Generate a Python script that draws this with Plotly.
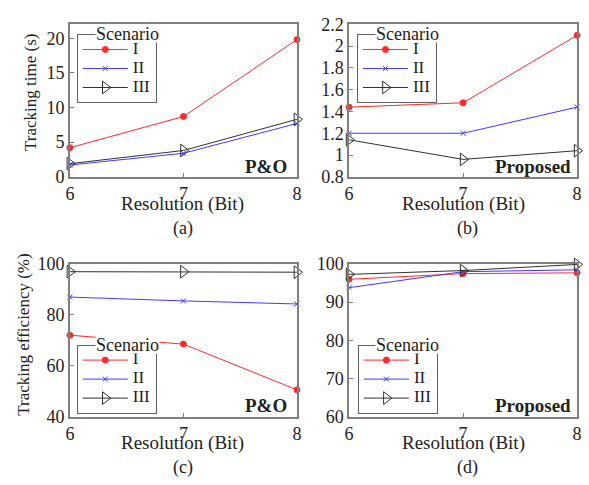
import plotly.graph_objects as go

res = [6, 7, 8]
scenarios = ["I", "II", "III"]
# (a) P&O tracking time (s)
po_time_I = [4.2, 8.7, 19.8]
po_time_II = [1.7, 3.4, 7.7]
po_time_III = [1.9, 3.8, 8.3]
# (b) Proposed tracking time (s)
pr_time_I = [1.44, 1.48, 2.1]
pr_time_II = [1.2, 1.2, 1.44]
pr_time_III = [1.14, 0.96, 1.04]
# (c) P&O tracking efficiency (%)
po_eff_I = [72, 68.5, 50.5]
po_eff_II = [87, 85.5, 84.3]
po_eff_III = [97, 97, 96.8]
# (d) Proposed tracking efficiency (%)
pr_eff_I = [96, 97.5, 97.7]
pr_eff_II = [93.8, 98, 98.5]
pr_eff_III = [97.3, 98.3, 99.9]

FONT = "Liberation Serif"
TXT = "#222"
colors = ["#ff2a2a", "#3c3cff", "#303030"]
symbols = ["circle", "x-thin", "triangle-right-open"]
msizes = [6, 5, 11]

fig = go.Figure()

panels = [
    ("x", "y", "legend", [po_time_I, po_time_II, po_time_III]),
    ("x2", "y2", "legend2", [pr_time_I, pr_time_II, pr_time_III]),
    ("x3", "y3", "legend3", [po_eff_I, po_eff_II, po_eff_III]),
    ("x4", "y4", "legend4", [pr_eff_I, pr_eff_II, pr_eff_III]),
]
for xa, ya, lg, series in panels:
    for name, vals, c, s, ms in zip(scenarios, series, colors, symbols, msizes):
        fig.add_trace(go.Scatter(
            x=res, y=vals, name='<span style="font-size:17px">' + name + "</span>",
            mode="lines+markers",
            line=dict(color=c, width=1),
            marker=dict(symbol=s, size=ms, color=c, line=dict(color=c, width=1)),
            xaxis=xa, yaxis=ya, legend=lg, cliponaxis=False))

W, H = 589, 485
xdom_l = [66 / W, 297 / W]
xdom_r = [350 / W, 582 / W]
ydom_t = [1 - 174 / H, 1 - 15 / H]
ydom_b = [1 - 424 / H, 1 - 265 / H]

axcommon = dict(showline=True, mirror=True, linecolor="#808080", linewidth=1.5,
                ticks="inside", ticklen=4, tickcolor="#808080", showgrid=False,
                zeroline=False, tickfont=dict(family=FONT, size=18, color=TXT))
xcommon = dict(axcommon, range=[6, 8], tickvals=res)

fig.update_layout(
    width=W, height=H, margin=dict(l=0, r=0, t=0, b=0),
    paper_bgcolor="white", plot_bgcolor="white",
    xaxis=dict(xcommon, domain=xdom_l, anchor="y"),
    yaxis=dict(axcommon, domain=ydom_t, anchor="x", range=[0, 22], tickvals=[0, 5, 10, 15, 20]),
    xaxis2=dict(xcommon, domain=xdom_r, anchor="y2"),
    yaxis2=dict(axcommon, domain=ydom_t, anchor="x2", range=[0.8, 2.2],
                tickvals=[0.8, 1, 1.2, 1.4, 1.6, 1.8, 2, 2.2],
                ticktext=["0.8", "1", "1.2", "1.4", "1.6", "1.8", "2", "2.2"]),
    xaxis3=dict(xcommon, domain=xdom_l, anchor="y3"),
    yaxis3=dict(axcommon, domain=ydom_b, anchor="x3", range=[40, 100], tickvals=[40, 60, 80, 100]),
    xaxis4=dict(xcommon, domain=xdom_r, anchor="y4"),
    yaxis4=dict(axcommon, domain=ydom_b, anchor="x4", range=[60, 100], tickvals=[60, 70, 80, 90, 100]),
    showlegend=True,
)

def leg(x, y):
    return dict(x=x, y=y, xanchor="left", yanchor="top",
                bordercolor="#606060", borderwidth=1, bgcolor="white",
                font=dict(family=FONT, size=11, color=TXT),
                tracegroupgap=0, itemwidth=45)

LT_TOP, LB_TOP = 25, 349
fig.update_layout(
    legend=leg(73 / W, 1 - LT_TOP / H),
    legend2=leg(358 / W, 1 - LT_TOP / H),
    legend3=leg(73 / W, 1 - LB_TOP / H),
    legend4=leg(359 / W, 1 - LB_TOP / H),
)

def ann(text, x, y, size, xanchor="center", angle=0, bg=None, height=None):
    fig.add_annotation(text=text, x=x / W, y=1 - y / H, xref="paper", yref="paper",
                       xanchor=xanchor, yanchor="middle", showarrow=False, textangle=angle,
                       bgcolor=bg, borderpad=0, height=height,
                       font=dict(family=FONT, size=size, color=TXT))

# legend titles sitting on legend borders
for x, y in [(125, LT_TOP), (409, LT_TOP), (125, LB_TOP), (409, LB_TOP)]:
    ann("Scenario", x, y, 18, bg="white", height=17)

# panel tags
ann("<b>P&O</b>", 288, 163, 19, "right")
ann("<b>Proposed</b>", 577, 163, 19, "right")
ann("<b>P&O</b>", 288, 413, 19, "right")
ann("<b>Proposed</b>", 577, 413, 19, "right")

# axis titles
ann("Resolution (Bit)", 181, 202, 19)
ann("Resolution (Bit)", 466, 202, 19)
ann("Resolution (Bit)", 181, 452, 19)
ann("Resolution (Bit)", 466, 452, 19)
ann("Tracking time (s)", 26, 86, 17, angle=-90)
ann("Tracking efficiency (%)", 18, 339, 17, angle=-90)

# subfigure labels
for t, x, y in [("(a)", 181, 228), ("(b)", 470, 228), ("(c)", 181, 477), ("(d)", 470, 477)]:
    ann(t, x, y, 18)

fig.write_html("out.html", post_script="document.body.style.margin='0';")
